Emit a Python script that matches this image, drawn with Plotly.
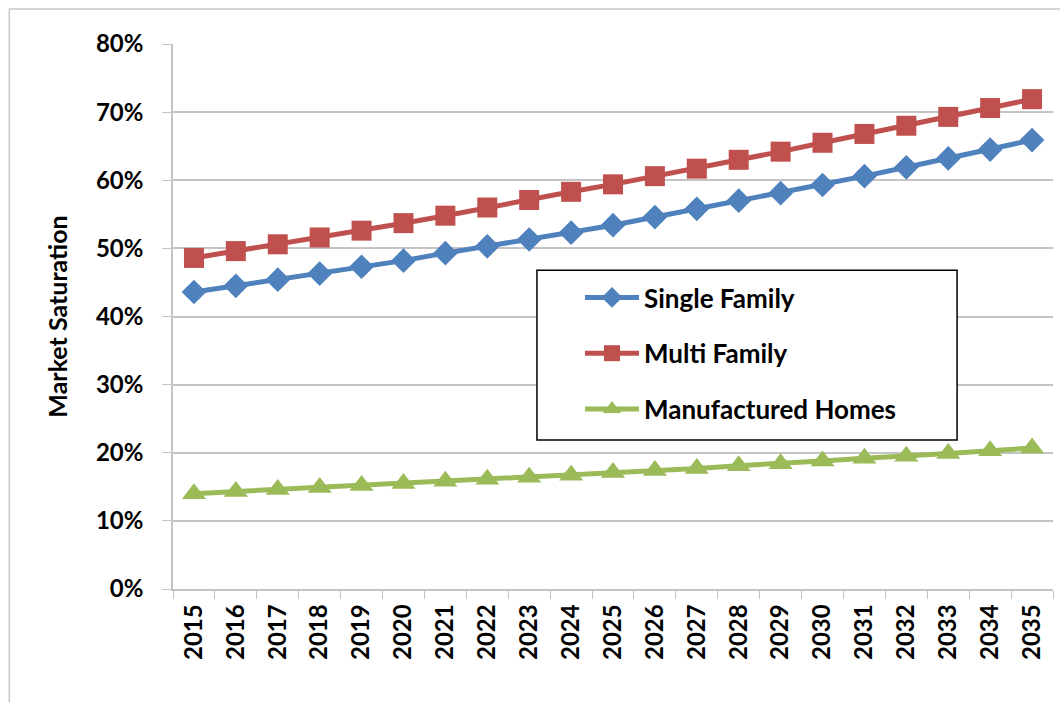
import plotly.graph_objects as go

# ---- data ----
years = [str(y) for y in range(2015, 2036)]

single_family = [43.6, 44.5, 45.4, 46.3, 47.3, 48.2, 49.3, 50.3, 51.3, 52.3, 53.4,
                 54.6, 55.8, 57.0, 58.1, 59.3, 60.6, 61.9, 63.2, 64.5, 65.9]
multi_family = [48.6, 49.6, 50.6, 51.6, 52.6, 53.7, 54.8, 56.0, 57.1, 58.3, 59.4,
                60.6, 61.7, 63.0, 64.2, 65.5, 66.8, 68.0, 69.3, 70.6, 71.9]
manufactured = [14.0, 14.3, 14.6, 14.9, 15.2, 15.5, 15.8, 16.1, 16.4, 16.7, 17.1,
                17.4, 17.7, 18.1, 18.4, 18.8, 19.2, 19.5, 19.9, 20.3, 20.7]

series = [
    ("Single Family", single_family, "#4F81BD", "diamond", 19),
    ("Multi Family", multi_family, "#C0504D", "square", 20),
    ("Manufactured Homes", manufactured, "#9BBB59", "triangle-up", 21),
]

FONT = "Lato"
grid = "#C4C4C4"

fig = go.Figure()
for i, (name, vals, color, symbol, size) in enumerate(series):
    fig.add_trace(go.Scatter(
        x=years, y=[v / 100 for v in vals], name=name, mode="lines+markers",
        legendgroup=str(i),
        line=dict(color=color, width=5),
        marker=dict(symbol=symbol, size=size, color=color, line=dict(width=0)),
    ))

# legend box and outer chart frame
fig.add_shape(type="rect", xref="paper", yref="paper",
              x0=0.4136, x1=0.891, y0=0.2734, y1=0.585,
              line=dict(color="black", width=1.5), fillcolor="white", layer="above")
fig.add_shape(type="rect", xref="paper", yref="paper",
              x0=-0.186, x1=1.3, y0=-0.6, y1=1.064,
              line=dict(color="#C8C8C8", width=1.5), layer="below")

fig.update_layout(
    width=1060, height=702, autosize=False,
    margin=dict(l=173, r=7, t=44, b=113),
    paper_bgcolor="white", plot_bgcolor="white",
    font=dict(family=FONT, color="black"),
    legend=dict(x=0.4625, y=0.578, xanchor="left", yanchor="top",
                bgcolor="rgba(0,0,0,0)", borderwidth=0,
                traceorder="grouped", tracegroupgap=19, itemwidth=54,
                font=dict(family=FONT, size=26, weight="bold")),
    xaxis=dict(type="category", range=[-0.5, 20.5], tickangle=-90,
               tickfont=dict(family=FONT, size=24, weight="bold"),
               showline=True, linecolor=grid, linewidth=1.5,
               ticks="outside", tickson="boundaries", ticklen=8, tickcolor=grid,
               ticklabelstandoff=4,
               showgrid=False, fixedrange=True),
    yaxis=dict(range=[0, 0.8], dtick=0.1, tickformat=".0%",
               tickfont=dict(family=FONT, size=24, weight="bold"),
               showline=True, linecolor=grid, linewidth=1.5,
               ticks="outside", ticklen=9, tickcolor=grid,
               gridcolor=grid, gridwidth=1.5, zeroline=False,
               ticklabelstandoff=14, fixedrange=True,
               title=dict(text="Market Saturation", standoff=21,
                          font=dict(family=FONT, size=25, weight="bold"))),
)

fig.write_html("out.html", config={"displayModeBar": False},
               post_script="document.body.style.margin='0px';")
